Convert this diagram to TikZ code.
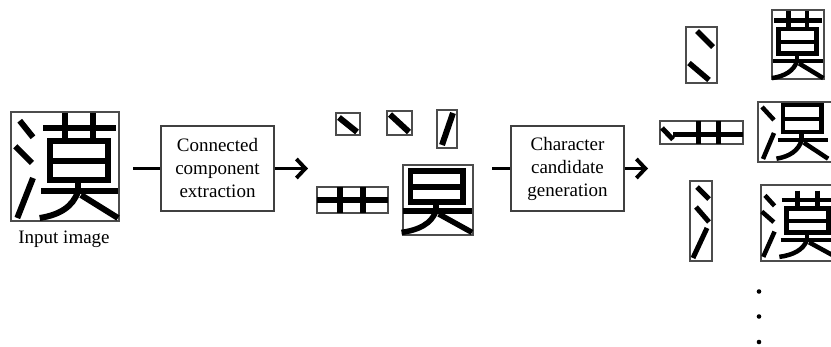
\documentclass[tikz,border=0pt]{standalone}
\usepackage{fontspec}
\setmainfont{Liberation Serif}
\usetikzlibrary{arrows.meta}
% glyph strokes in glyph-local units (input box = 108 x 109)
\newcommand\gDa{\draw (8.7,8.7) -- (22,25.3);}
\newcommand\gDb{\draw (4.3,34.3) -- (21,51);}
\newcommand\gDc{\draw (22,66) -- (6.3,106);}
\newcommand\gGrass{\draw (32,16) -- (105,16); \draw (53.7,1) -- (53.7,29.3); \draw (82,1) -- (82,29.3);}
\newcommand\gBody{\draw (38.7,29.3) rectangle (97,67.7); \draw (38.7,49.3) -- (97,49.3);
  \draw (67,67.7) -- (67,79.3); \draw (30.3,79.3) -- (107,79.3);
  \draw (67,79.3) .. controls (62,95) and (48,103) .. (28.7,106);
  \draw (70,83) -- (107,106);}
\newcommand\gAll{\gDa\gDb\gDc\gGrass\gBody}
\begin{document}
\begin{tikzpicture}[x=1pt,y=-1pt,
  frame/.style={draw=black!70,line width=1.1pt,inner sep=0pt,outer sep=0pt,anchor=north west},
  procbox/.style={draw=black!75,line width=1.1pt,minimum width=113pt,minimum height=85pt,align=center,font=\fontsize{19}{23}\selectfont,inner sep=0pt},
  conn/.style={line width=3.2pt},
  arr/.style={conn,-{Straight Barb[length=9pt,width=19pt,line width=3.8pt]}},
  ink/.style={line width=#1,black,line join=miter},
  dotn/.style={circle,fill=black,inner sep=0pt,minimum size=4.6pt}]
\clip (0,0) rectangle (831,347);
\fill[white] (0,0) rectangle (831,347);

% input image
\node[frame,minimum width=108pt,minimum height=109pt] (inp) at (11,112) {};
\begin{scope}[shift={(11,112)},ink=6pt] \gAll \end{scope}
\node[font=\fontsize{19}{23}\selectfont] (inlab) at (64,239) {Input image};

% process boxes
\node[procbox] (A) at (217.5,168.5) {Connected\\component\\extraction};
\node[procbox] (B) at (567.5,168.5) {Character\\candidate\\generation};
\coordinate (s0) at (133,168.5);
\coordinate (t1) at (308,168.5);
\coordinate (s1) at (492,168.5);
\coordinate (t2) at (648,168.5);
\draw[conn] (s0) -- (A.west);
\draw[arr] (A.east) -- (t1);
\draw[conn] (s1) -- (B.west);
\draw[arr] (B.east) -- (t2);

% connected components
\node[frame,minimum width=24pt,minimum height=22pt] (c1) at (336,113) {};
\draw[ink=6pt] (339,117.5) -- (357,132);
\node[frame,minimum width=25pt,minimum height=24pt] (c2) at (387,111) {};
\draw[ink=6pt] (390,114.5) -- (409,132);
\node[frame,minimum width=20pt,minimum height=38pt] (c3) at (437,110) {};
\draw[ink=6pt] (453,113) -- (442,145);
\node[frame,minimum width=71pt,minimum height=26pt] (c4) at (317,187) {};
\begin{scope}[ink=6pt]
  \draw (317,200) -- (388,200);
  \draw (340,187) -- (340,213);
  \draw (363,187) -- (363,213);
\end{scope}
\node[frame,minimum width=70pt,minimum height=70pt] (c5) at (403,165) {};
\begin{scope}[shift={(375.7,147.6)},xscale=0.9,yscale=0.8,ink=5.5pt] \gBody \end{scope}

% character candidates
\node[frame,minimum width=31pt,minimum height=56pt] (r1) at (686,27) {};
\begin{scope}[ink=5.5pt]
  \draw (697,31) -- (713,47);
  \draw (689,63) -- (709,80);
\end{scope}
\node[frame,minimum width=83pt,minimum height=23pt] (r2) at (660,121) {};
\begin{scope}[ink=5pt]
  \draw (662,128) -- (673,139.5);
  \draw (673,134.5) -- (743,134.5);
  \draw (698,121) -- (698,144);
  \draw (718,121) -- (718,144);
\end{scope}
\node[frame,minimum width=22pt,minimum height=80pt] (r3) at (690,181) {};
\begin{scope}[ink=5pt]
  \draw (697,187) -- (709,199);
  \draw (696,207) -- (709,222);
  \draw (707,228) -- (693,258);
\end{scope}
\node[frame,minimum width=52pt,minimum height=69pt] (r4) at (772,10) {};
\begin{scope}[shift={(753.1,10.3)},xscale=0.656,yscale=0.64,ink=4.5pt] \gGrass\gBody \end{scope}
\node[frame,minimum width=80pt,minimum height=60pt] (r5) at (758,102) {};
\begin{scope}[ink=4.5pt]
  \draw (762,107) -- (774,120);
  \draw (774,133) -- (763,159);
\end{scope}
\begin{scope}[shift={(757.5,84.5)},xscale=0.66,yscale=0.7,ink=4.5pt] \gBody \end{scope}
\node[frame,minimum width=80pt,minimum height=76pt] (r6) at (761,185) {};
\begin{scope}[shift={(758.7,189.9)},xscale=0.72,yscale=0.632,ink=4.5pt] \gAll \end{scope}

% continuation dots
\node[dotn] (e1) at (759,291.5) {};
\node[dotn] (e2) at (759,316.5) {};
\node[dotn] (e3) at (759,342) {};
\end{tikzpicture}
\end{document}
